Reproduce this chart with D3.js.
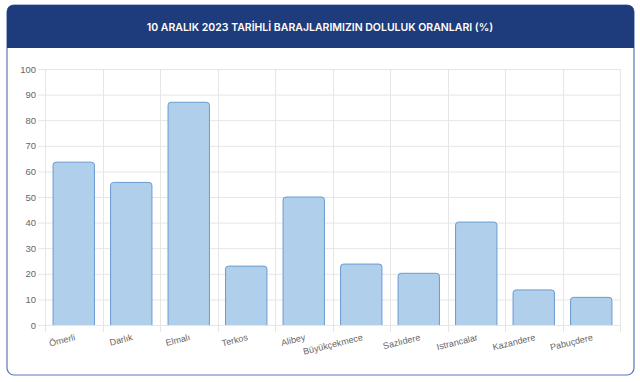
<!DOCTYPE html>
<html>
<head>
<meta charset="utf-8">
<script src="https://cdn.jsdelivr.net/npm/d3@7"></script>
<style>
  body { margin: 0; background: #fff; }
  svg { display: block; }
</style>
</head>
<body>
<div id="chart"></div>
<script>
// Data
var title = "10 ARALIK 2023 TARİHLİ BARAJLARIMIZIN DOLULUK ORANLARI (%)";
var dams = ["Ömerli", "Darlık", "Elmalı", "Terkos", "Alibey", "Büyükçekmece", "Sazlıdere", "Istrancalar", "Kazandere", "Pabuçdere"];
var fillRates = [63.6, 55.7, 87.0, 23.0, 50.0, 23.8, 20.2, 40.2, 13.7, 10.8];
var yTicks = [0, 10, 20, 30, 40, 50, 60, 70, 80, 90, 100];

var W = 640, H = 382;
var svg = d3.select("#chart").append("svg")
	.attr("width", W)
	.attr("height", H);

// Card with header
var card = {x: 7, y: 5, w: 627, h: 370, r: 7, head: 43};
svg.append("rect")
	.attr("x", card.x).attr("y", card.y)
	.attr("width", card.w).attr("height", card.h)
	.attr("rx", card.r)
	.attr("fill", "#fff")
	.attr("stroke", "#5b78b8")
	.attr("stroke-width", 1.2);

svg.append("path")
	.attr("d", "M" + card.x + "," + (card.y + card.head) +
		"V" + (card.y + card.r) +
		"Q" + card.x + "," + card.y + " " + (card.x + card.r) + "," + card.y +
		"H" + (card.x + card.w - card.r) +
		"Q" + (card.x + card.w) + "," + card.y + " " + (card.x + card.w) + "," + (card.y + card.r) +
		"V" + (card.y + card.head) + "Z")
	.attr("fill", "#1e3b7c");

svg.append("text")
	.attr("x", W / 2)
	.attr("y", card.y + card.head / 2 + 4)
	.attr("text-anchor", "middle")
	.attr("fill", "#fff")
	.attr("font-family", "Inter, 'Open Sans', sans-serif")
	.attr("font-weight", 600)
	.attr("font-size", 10.5)
	.text(title);

// Plot area
var plot = {left: 45, right: 620, top: 69, bottom: 325};

var x = d3.scaleBand()
	.domain(dams)
	.range([plot.left, plot.right])
	.paddingInner(0.28)
	.paddingOuter(0.14);

var y = d3.scaleLinear()
	.domain([0, 100])
	.range([plot.bottom, plot.top]);

var gridColor = "#e6e6e6";

// Horizontal grid + tick marks
svg.append("g")
	.selectAll("line")
	.data(yTicks)
	.enter().append("line")
	.attr("x1", plot.left - 7)
	.attr("x2", plot.right)
	.attr("y1", d => y(d) + 0.5)
	.attr("y2", d => y(d) + 0.5)
	.attr("stroke", gridColor);

// Vertical grid on category boundaries
var bounds = d3.range(dams.length + 1).map(i => plot.left + i * (plot.right - plot.left) / dams.length);
svg.append("g")
	.selectAll("line")
	.data(bounds)
	.enter().append("line")
	.attr("x1", d => Math.round(d) + 0.5)
	.attr("x2", d => Math.round(d) + 0.5)
	.attr("y1", plot.top)
	.attr("y2", plot.bottom + 7)
	.attr("stroke", gridColor);

// Y axis labels
svg.append("g")
	.selectAll("text")
	.data(yTicks)
	.enter().append("text")
	.attr("x", plot.left - 9)
	.attr("y", d => y(d) + 3.5)
	.attr("text-anchor", "end")
	.attr("fill", "#666")
	.attr("font-family", "'Liberation Sans', Arial, sans-serif")
	.attr("font-size", 9.5)
	.text(d => d);

// Bars with rounded top corners
function barPath(x0, y0, w, h, r) {
	r = Math.min(r, h);
	return "M" + x0 + "," + (y0 + h) +
		"V" + (y0 + r) +
		"Q" + x0 + "," + y0 + " " + (x0 + r) + "," + y0 +
		"H" + (x0 + w - r) +
		"Q" + (x0 + w) + "," + y0 + " " + (x0 + w) + "," + (y0 + r) +
		"V" + (y0 + h);
}

svg.append("g")
	.selectAll("path")
	.data(dams)
	.enter().append("path")
	.attr("d", (d, i) => barPath(x(d), y(fillRates[i]), x.bandwidth(), plot.bottom - y(fillRates[i]), 3))
	.attr("fill", "#afcfeb")
	.attr("stroke", "#6a9bd1")
	.attr("stroke-width", 1);

// X axis labels, rotated
svg.append("g")
	.selectAll("text")
	.data(dams)
	.enter().append("text")
	.attr("transform", d => "translate(" + (x(d) + x.bandwidth() / 2 + 2) + "," + (plot.bottom + 15) + ") rotate(-14)")
	.attr("text-anchor", "end")
	.attr("fill", "#666")
	.attr("font-family", "'Liberation Sans', Arial, sans-serif")
	.attr("font-size", 9)
	.text(d => d);
</script>
</body>
</html>
